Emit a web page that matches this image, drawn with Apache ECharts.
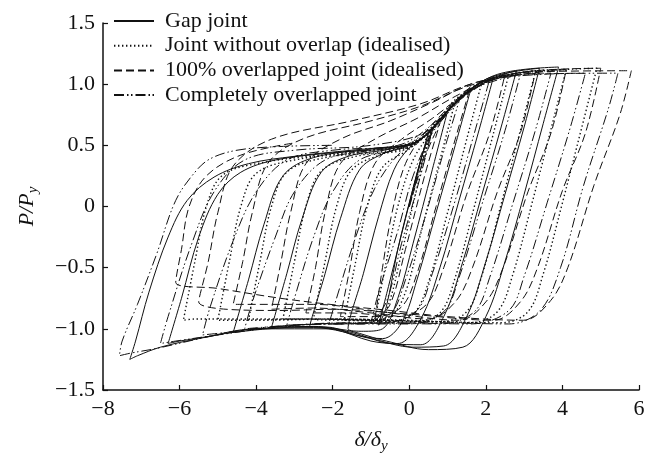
<!DOCTYPE html>
<html>
<head>
<meta charset="utf-8">
<script src="https://cdn.jsdelivr.net/npm/echarts@6/dist/echarts.min.js"></script>
<style>
  html, body { margin: 0; padding: 0; background: #fff; }
  #chart { width: 656px; height: 459px; }
</style>
</head>
<body>
<div id="chart"></div>
<script>
// Normalised hysteresis paths (δ/δy, P/Py), one continuous path per joint type.
const seriesNames = [
  'Gap joint',
  'Joint without overlap (idealised)',
  '100% overlapped joint (idealised)',
  'Completely overlapped joint'
];

const gapJoint = [
  [0,0],[0.25,0.32],[0.5,0.6],
  [0.1,0.15],[-0.3,-0.35],[-0.6,-0.82],[-0.8,-0.97],
  [-0.5,-0.6],[-0.1,-0.1],[0.3,0.38],[0.6,0.62],[1.0,0.78],
  [0.6,0.3],[0.1,-0.3],[-0.3,-0.75],[-0.7,-1.0],[-1.2,-1.02],[-1.6,-1.0],
  [-1.2,-0.55],[-0.8,-0.08],[-0.4,0.3],[0,0.48],[0.5,0.6],[1.0,0.78],[1.6,0.95],
  [1.2,0.5],[0.7,-0.05],[0.2,-0.6],[-0.2,-0.95],[-0.7,-1.08],[-1.4,-1.05],[-2.0,-0.99],[-2.6,-0.98],
  [-2.2,-0.55],[-1.8,-0.1],[-1.3,0.3],[-0.7,0.43],[0,0.5],[0.6,0.63],[1.2,0.85],[2.2,1.06],
  [1.8,0.6],[1.3,0.05],[0.8,-0.5],[0.3,-0.92],[-0.3,-1.12],[-1.0,-1.1],[-2.0,-1.0],[-3.0,-0.98],[-3.6,-0.99],
  [-3.2,-0.55],[-2.8,-0.1],[-2.3,0.28],[-1.6,0.41],[-0.5,0.47],[0.3,0.55],[1.0,0.78],[1.8,1.0],[2.8,1.11],
  [2.4,0.65],[1.9,0.1],[1.4,-0.45],[0.9,-0.9],[0.3,-1.13],[-0.5,-1.12],[-1.5,-1.03],[-2.5,-0.98],[-3.7,-1.0],[-4.6,-1.03],
  [-4.2,-0.6],[-3.8,-0.15],[-3.3,0.25],[-2.5,0.4],[-1.0,0.47],[0.2,0.53],[1.0,0.78],[2.0,1.04],[3.4,1.13],
  [3.0,0.65],[2.5,0.1],[2.0,-0.45],[1.5,-0.9],[0.9,-1.14],[0.1,-1.15],[-1.0,-1.08],[-2.5,-0.99],[-4.0,-1.0],[-5.2,-1.06],[-6.0,-1.1],[-6.3,-1.12],
  [-5.95,-0.75],[-5.5,-0.25],[-5.0,0.1],[-4.4,0.28],[-3.5,0.38],[-2.0,0.44],[0,0.5],[0.6,0.63],[1.3,0.88],[2.3,1.08],[3.9,1.14],
  [3.5,0.68],[3.0,0.1],[2.5,-0.45],[2.0,-0.9],[1.4,-1.15],[0.5,-1.17],[-0.6,-1.1],[-2.0,-1.0],[-4.0,-1.0],[-5.5,-1.08],[-6.5,-1.15],[-7.1,-1.22],[-7.3,-1.25],
  [-7.15,-1.1],[-6.8,-0.7],[-6.3,-0.25],[-5.8,0.05],[-5.1,0.24],[-4.2,0.35],[-3.0,0.41],[-1.5,0.46],[0,0.5]
];

const noOverlapJoint = [
  [0,0],[0.3,0.35],[0.6,0.65],
  [0.2,0.15],[-0.2,-0.38],[-0.6,-0.85],[-0.9,-0.93],
  [-0.6,-0.45],[-0.3,0.0],[0.1,0.38],[0.6,0.62],[1.2,0.86],
  [0.8,0.38],[0.3,-0.22],[-0.1,-0.7],[-0.5,-0.9],[-1.1,-0.93],[-1.7,-0.93],
  [-1.4,-0.45],[-1.1,0.0],[-0.7,0.32],[0,0.47],[0.6,0.64],[1.2,0.86],[1.9,1.02],
  [1.5,0.55],[1.0,-0.05],[0.5,-0.62],[0.1,-0.88],[-0.6,-0.94],[-1.6,-0.93],[-2.5,-0.92],
  [-2.2,-0.45],[-1.9,0.0],[-1.5,0.3],[-0.7,0.43],[0.2,0.52],[0.9,0.75],[1.6,0.96],[2.6,1.08],
  [2.2,0.6],[1.7,0.0],[1.2,-0.58],[0.8,-0.87],[0.1,-0.94],[-1.2,-0.93],[-2.4,-0.92],[-3.3,-0.92],
  [-3.0,-0.45],[-2.7,0.0],[-2.3,0.29],[-1.4,0.41],[0,0.48],[0.8,0.72],[1.8,1.0],[3.3,1.11],
  [2.9,0.62],[2.4,0.02],[1.9,-0.56],[1.5,-0.86],[0.8,-0.94],[-0.8,-0.93],[-2.6,-0.92],[-4.2,-0.93],
  [-3.9,-0.45],[-3.6,0.0],[-3.2,0.28],[-2.2,0.4],[-0.5,0.46],[0.5,0.6],[1.5,0.94],[2.8,1.09],[4.1,1.12],
  [3.7,0.63],[3.2,0.02],[2.7,-0.56],[2.3,-0.86],[1.6,-0.95],[0,-0.93],[-2.0,-0.92],[-4.0,-0.93],[-5.0,-0.93],
  [-4.7,-0.45],[-4.4,0.0],[-4.0,0.27],[-3.0,0.38],[-1.0,0.46],[0.3,0.56],[1.3,0.9],[2.5,1.07],[4.9,1.13],
  [4.5,0.64],[4.0,0.03],[3.5,-0.55],[3.1,-0.86],[2.4,-0.95],[0.5,-0.94],[-2.0,-0.92],[-4.5,-0.92],[-5.6,-0.92],[-5.9,-0.93],
  [-5.6,-0.45],[-5.3,0.0],[-4.9,0.25],[-4.0,0.35],[-2.0,0.43],[0,0.48]
];

const overlap100Joint = [
  [0,0],[0.4,0.4],[0.8,0.68],
  [0.4,0.25],[-0.1,-0.35],[-0.5,-0.8],[-0.9,-0.93],
  [-0.7,-0.5],[-0.45,-0.05],[-0.1,0.35],[0.4,0.6],[1.0,0.8],[1.6,0.98],
  [1.2,0.55],[0.7,0.0],[0.2,-0.55],[-0.2,-0.82],[-0.9,-0.9],[-1.8,-0.9],
  [-1.55,-0.5],[-1.3,-0.05],[-0.9,0.35],[-0.2,0.55],[0.6,0.72],[1.5,0.93],[2.5,1.08],
  [2.1,0.6],[1.5,0.1],[0.9,-0.5],[0.45,-0.8],[-0.3,-0.9],[-1.6,-0.87],[-2.7,-0.87],
  [-2.45,-0.5],[-2.2,-0.05],[-1.8,0.35],[-0.9,0.55],[0.2,0.72],[1.2,0.9],[2.2,1.05],[3.3,1.11],
  [2.9,0.6],[2.3,0.12],[1.65,-0.5],[1.2,-0.78],[0.5,-0.92],[-1.0,-0.87],[-2.5,-0.83],[-3.6,-0.84],
  [-3.35,-0.45],[-3.1,-0.05],[-2.7,0.35],[-1.8,0.55],[-0.5,0.7],[0.6,0.85],[1.8,1.02],[4.1,1.12],
  [3.7,0.6],[3.1,0.12],[2.45,-0.5],[2.0,-0.78],[1.3,-0.93],[-0.5,-0.87],[-2.5,-0.8],[-4.6,-0.8],
  [-4.35,-0.45],[-4.1,-0.05],[-3.7,0.35],[-2.8,0.55],[-1.0,0.7],[0.3,0.82],[1.5,0.98],[3.0,1.1],[5.0,1.13],
  [4.6,0.6],[4.0,0.13],[3.35,-0.5],[2.9,-0.78],[2.2,-0.93],[0,-0.88],[-2.0,-0.84],[-3.4,-0.85],[-5.5,-0.78],
  [-5.25,-0.45],[-5.0,-0.05],[-4.6,0.33],[-3.6,0.55],[-1.5,0.7],[0.3,0.84],[1.6,1.0],[3.2,1.1],[5.8,1.11],
  [5.5,0.75],[4.82,0.17],[4.14,-0.5],[3.69,-0.77],[2.98,-0.93],[1.0,-0.9],[-0.5,-0.85],[-2.07,-0.8],[-3.37,-0.75],[-5.0,-0.67],[-6.1,-0.62],
  [-5.95,-0.35],[-5.75,0.0],[-5.3,0.25],[-4.4,0.42],[-3.0,0.52]
];

const fullOverlapJoint = [
  [0,0],[0.3,0.33],[0.6,0.62],
  [0.25,0.2],[-0.2,-0.3],[-0.6,-0.78],[-1.0,-0.95],
  [-0.8,-0.7],[-0.3,-0.2],[0.1,0.25],[0.6,0.6],[1.3,0.86],
  [0.9,0.45],[0.4,-0.1],[-0.1,-0.6],[-0.5,-0.88],[-1.3,-0.96],[-2.1,-0.96],
  [-1.9,-0.75],[-1.4,-0.25],[-0.9,0.15],[-0.3,0.42],[0.4,0.58],[1.2,0.84],[2.1,1.04],
  [1.7,0.6],[1.2,0.05],[0.6,-0.55],[0.2,-0.85],[-0.6,-0.95],[-2.0,-0.96],[-3.2,-0.97],
  [-3.0,-0.75],[-2.5,-0.25],[-2.0,0.12],[-1.3,0.38],[-0.2,0.48],[0.7,0.68],[1.6,0.95],[2.9,1.08],
  [2.5,0.62],[1.9,0.02],[1.3,-0.58],[0.9,-0.86],[0.0,-0.96],[-2.0,-0.96],[-3.5,-0.98],[-4.3,-1.0],
  [-4.1,-0.78],[-3.5,-0.25],[-3.0,0.12],[-2.2,0.38],[-1.0,0.46],[0.3,0.55],[1.2,0.85],[2.3,1.05],[3.7,1.09],
  [3.3,0.63],[2.7,0.02],[2.1,-0.58],[1.7,-0.86],[0.8,-0.96],[-1.5,-0.95],[-3.5,-0.98],[-4.8,-1.03],[-5.4,-1.05],
  [-5.2,-0.82],[-4.6,-0.28],[-4.0,0.12],[-3.2,0.38],[-2.0,0.46],[-0.3,0.5],[0.8,0.72],[2.0,1.03],[4.6,1.09],
  [4.2,0.64],[3.6,0.03],[3.0,-0.57],[2.6,-0.85],[1.6,-0.96],[-0.5,-0.95],[-3.0,-0.97],[-5.0,-1.05],[-6.1,-1.1],[-6.5,-1.12],
  [-6.3,-0.9],[-5.7,-0.32],[-5.1,0.12],[-4.3,0.38],[-3.0,0.46],[-1.0,0.5],[0.5,0.62],[1.6,0.95],[3.0,1.08],[5.45,1.09],
  [5.2,0.8],[4.55,0.17],[3.95,-0.5],[3.42,-0.85],[2.6,-0.96],[0.5,-0.95],[-2.0,-0.96],[-3.37,-0.98],[-5.0,-1.05],[-6.6,-1.16],[-7.3,-1.2],[-7.57,-1.22],
  [-7.5,-1.1],[-7.1,-0.8],[-6.6,-0.39],[-6.1,0.05],[-5.6,0.28],[-5.2,0.39],[-4.5,0.46],[-3.4,0.49],[-2.0,0.5]
];

// Axis ranges and tick spacing
const xAxisRange = [-8, 6, 2];
const yAxisRange = [-1.5, 1.5, 0.5];

const FONT = '"Liberation Serif", "Times New Roman", serif';
const INK = '#111';
const dashStyles = ['solid', [1.4, 2.6], [8, 4], [10, 3, 1.5, 2.5, 1.5, 3]];
const lineWidths = [1, 1.4, 1, 1];
const paths = [gapJoint, noOverlapJoint, overlap100Joint, fullOverlapJoint];

const minus = s => String(s).replace('-', '\u2212');

const chart = echarts.init(document.getElementById('chart'), null, { renderer: 'canvas' });
chart.setOption({
  animation: false,
  backgroundColor: '#fff',
  grid: { left: 103, right: 17, top: 23, bottom: 63 },
  legend: {
    orient: 'vertical',
    left: 113,
    top: 10,
    padding: 0,
    itemWidth: 40,
    itemHeight: 12,
    itemGap: 2.7,
    data: seriesNames,
    // line sample only, no point marker
    itemStyle: { opacity: 0 },
    textStyle: {
      fontFamily: FONT, fontSize: 22, color: INK, lineHeight: 22,
      padding: [0, 0, 0, 6]
    },
    inactiveColor: INK
  },
  xAxis: {
    type: 'value',
    min: xAxisRange[0], max: xAxisRange[1], interval: xAxisRange[2],
    name: '{i|\u03B4/\u03B4}{s|y}',
    nameLocation: 'middle',
    nameGap: 37,
    nameTextStyle: {
      rich: {
        i: { fontFamily: FONT, fontStyle: 'italic', fontSize: 22, color: INK },
        s: { fontFamily: FONT, fontStyle: 'italic', fontSize: 15, color: INK, padding: [12, 0, 0, 0] }
      }
    },
    axisLine: { show: true, onZero: false, lineStyle: { color: INK, width: 1.5 } },
    axisTick: { show: true, inside: true, length: 5, lineStyle: { color: INK, width: 1.2 } },
    splitLine: { show: false },
    axisLabel: {
      fontFamily: FONT, fontSize: 22, color: INK, margin: 8,
      formatter: v => minus(v)
    }
  },
  yAxis: {
    type: 'value',
    min: yAxisRange[0], max: yAxisRange[1], interval: yAxisRange[2],
    name: '{i|P/P}{s|y}',
    nameLocation: 'middle',
    nameGap: 62,
    nameRotate: 90,
    nameTextStyle: {
      rich: {
        i: { fontFamily: FONT, fontStyle: 'italic', fontSize: 22, color: INK },
        s: { fontFamily: FONT, fontStyle: 'italic', fontSize: 15, color: INK, padding: [12, 0, 0, 0] }
      }
    },
    axisLine: { show: true, onZero: false, lineStyle: { color: INK, width: 1.5 } },
    axisTick: { show: true, inside: true, length: 5, lineStyle: { color: INK, width: 1.2 } },
    splitLine: { show: false },
    axisLabel: {
      fontFamily: FONT, fontSize: 22, color: INK, margin: 8,
      formatter: v => (v === 0 ? '0' : minus(v.toFixed(1)))
    }
  },
  series: seriesNames.map((name, i) => ({
    name: name,
    type: 'line',
    data: paths[i],
    symbol: 'none',
    smooth: 0.35,
    color: INK,
    lineStyle: { color: INK, width: lineWidths[i], type: dashStyles[i] }
  }))
});
</script>
</body>
</html>
